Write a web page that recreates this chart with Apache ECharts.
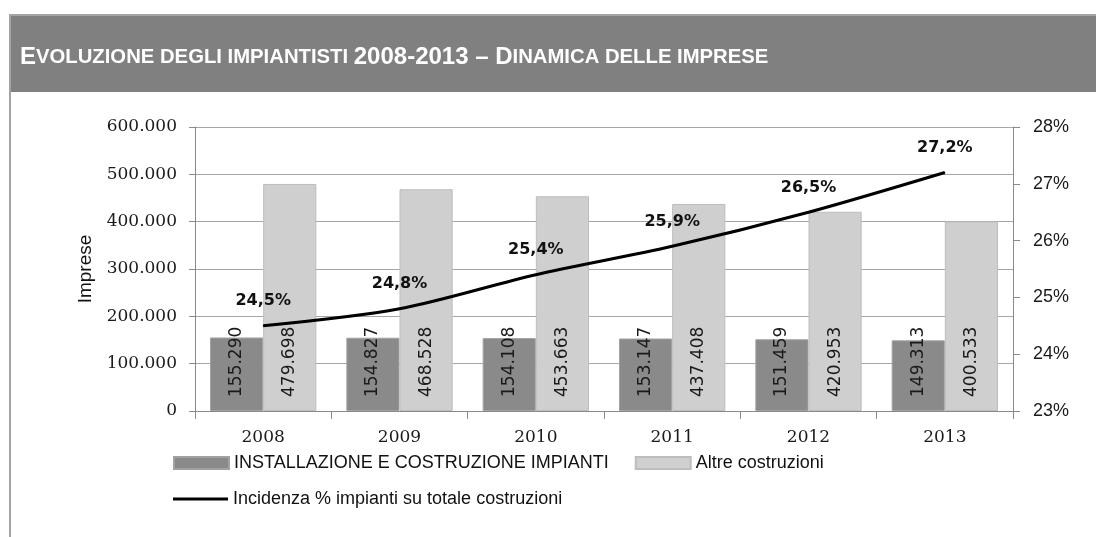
<!DOCTYPE html>
<html>
<head>
<meta charset="utf-8">
<script src="https://cdn.jsdelivr.net/npm/echarts@6/dist/echarts.min.js"></script>
<style>
html,body{margin:0;padding:0;background:#fff;}
#chart{width:1096px;height:537px;}
</style>
</head>
<body>
<div id="chart"></div>
<script>
const categories = ['2008', '2009', '2010', '2011', '2012', '2013'];
const impianti = [155290, 154827, 154108, 153147, 151459, 149313];
const altre = [479698, 468528, 453663, 437408, 420953, 400533];
const incidenza = [24.5, 24.8, 25.4, 25.9, 26.5, 27.2];
const leftTicks = { min: 0, max: 600000, interval: 100000 };
const rightTicks = { min: 23, max: 28, interval: 1 };

const fmtThousands = v => String(v).replace(/\B(?=(\d{3})+(?!\d))/g, '.');

const chart = echarts.init(document.getElementById('chart'), null, { renderer: 'canvas' });

const barLabel = {
  show: true,
  position: 'insideBottom',
  distance: 14,
  rotate: 90,
  align: 'left',
  verticalAlign: 'middle',
  fontFamily: 'DejaVu Sans',
  fontSize: 17,
  color: '#1a1a1a',
  formatter: p => fmtThousands(p.value)
};

chart.setOption({
  animation: false,
  backgroundColor: '#ffffff',
  graphic: [
    { type: 'rect', shape: { x: 9, y: 14, width: 1087, height: 78 }, style: { fill: '#808080' } },
    { type: 'line', shape: { x1: 9, y1: 15, x2: 1096, y2: 15 }, style: { stroke: '#a3a3a3', lineWidth: 2 } },
    { type: 'line', shape: { x1: 10, y1: 14, x2: 10, y2: 537 }, style: { stroke: '#a3a3a3', lineWidth: 2 } },
    {
      type: 'text', left: 20, top: 45,
      style: {
        text: '{b|E}{s|VOLUZIONE DEGLI IMPIANTISTI }{b|2008-2013 – D}{s|INAMICA DELLE IMPRESE}',
        rich: {
          b: { fontFamily: 'Liberation Sans', fontWeight: 'bold', fontSize: 24, fill: '#ffffff', color: '#ffffff' },
          s: { fontFamily: 'Liberation Sans', fontWeight: 'bold', fontSize: 20.3, fill: '#ffffff', color: '#ffffff' }
        },
        fill: '#ffffff'
      }
    }
  ],
  grid: { left: 195, right: 83, top: 127, bottom: 126, containLabel: false },
  legend: [
    {
      data: [
        { name: 'INSTALLAZIONE E COSTRUZIONE IMPIANTI', icon: 'rect' },
        { name: 'Altre costruzioni', icon: 'rect' }
      ],
      left: 173, top: 454, padding: 0,
      itemWidth: 55, itemHeight: 12, itemGap: 26,
      textStyle: { fontFamily: 'Liberation Sans', fontSize: 18, color: '#111' }
    },
    {
      data: [{ name: 'Incidenza % impianti su totale costruzioni', icon: 'rect' }],
      left: 173, top: 490, padding: 0,
      itemWidth: 55, itemHeight: 3,
      textStyle: { fontFamily: 'Liberation Sans', fontSize: 18, color: '#111' }
    }
  ],
  xAxis: {
    type: 'category',
    data: categories,
    boundaryGap: true,
    axisLine: { lineStyle: { color: '#8a8a8a', width: 1 } },
    axisTick: { show: true, length: 8, alignWithLabel: false, lineStyle: { color: '#8a8a8a' } },
    axisLabel: { margin: 18, fontFamily: 'DejaVu Serif', fontSize: 17, color: '#1a1a1a' }
  },
  yAxis: [
    {
      type: 'value',
      min: leftTicks.min, max: leftTicks.max, interval: leftTicks.interval,
      name: 'Imprese', nameLocation: 'middle', nameGap: 100, nameRotate: 90,
      nameTextStyle: { fontFamily: 'Liberation Sans', fontSize: 19, color: '#111' },
      axisLine: { show: true, lineStyle: { color: '#8a8a8a' } },
      axisTick: { show: true, length: 6, inside: false, lineStyle: { color: '#8a8a8a' } },
      axisLabel: { margin: 18, fontFamily: 'DejaVu Serif', fontSize: 17, color: '#1a1a1a', formatter: v => fmtThousands(v) },
      splitLine: { show: true, lineStyle: { color: '#a6a6a6', width: 1 } }
    },
    {
      type: 'value',
      min: rightTicks.min, max: rightTicks.max, interval: rightTicks.interval,
      position: 'right',
      axisLine: { show: true, lineStyle: { color: '#8a8a8a' } },
      axisTick: { show: true, length: 7, lineStyle: { color: '#8a8a8a' } },
      axisLabel: { margin: 20, fontFamily: 'Liberation Sans', fontSize: 18, color: '#1a1a1a', formatter: v => v + '%' },
      splitLine: { show: false }
    }
  ],
  series: [
    {
      name: 'INSTALLAZIONE E COSTRUZIONE IMPIANTI',
      type: 'bar',
      data: impianti,
      barGap: '0%',
      barCategoryGap: '22%',
      itemStyle: { color: '#8a8a8a', borderColor: '#a2a2a2', borderWidth: 1 },
      label: barLabel
    },
    {
      name: 'Altre costruzioni',
      type: 'bar',
      data: altre,
      barGap: '0%',
      barCategoryGap: '22%',
      itemStyle: { color: '#cfcfcf', borderColor: '#bdbdbd', borderWidth: 1 },
      label: barLabel
    },
    {
      name: 'Incidenza % impianti su totale costruzioni',
      type: 'line',
      yAxisIndex: 1,
      data: incidenza,
      smooth: 0.3,
      symbol: 'circle',
      symbolSize: 1,
      showSymbol: true,
      lineStyle: { color: '#000000', width: 3 },
      itemStyle: { color: '#000000' },
      label: {
        show: true,
        position: 'top',
        distance: 16,
        fontFamily: 'DejaVu Sans',
        fontWeight: 'bold',
        fontSize: 16,
        color: '#111',
        formatter: p => String(p.value).replace('.', ',') + '%'
      },
      z: 5
    }
  ]
});
</script>
</body>
</html>
